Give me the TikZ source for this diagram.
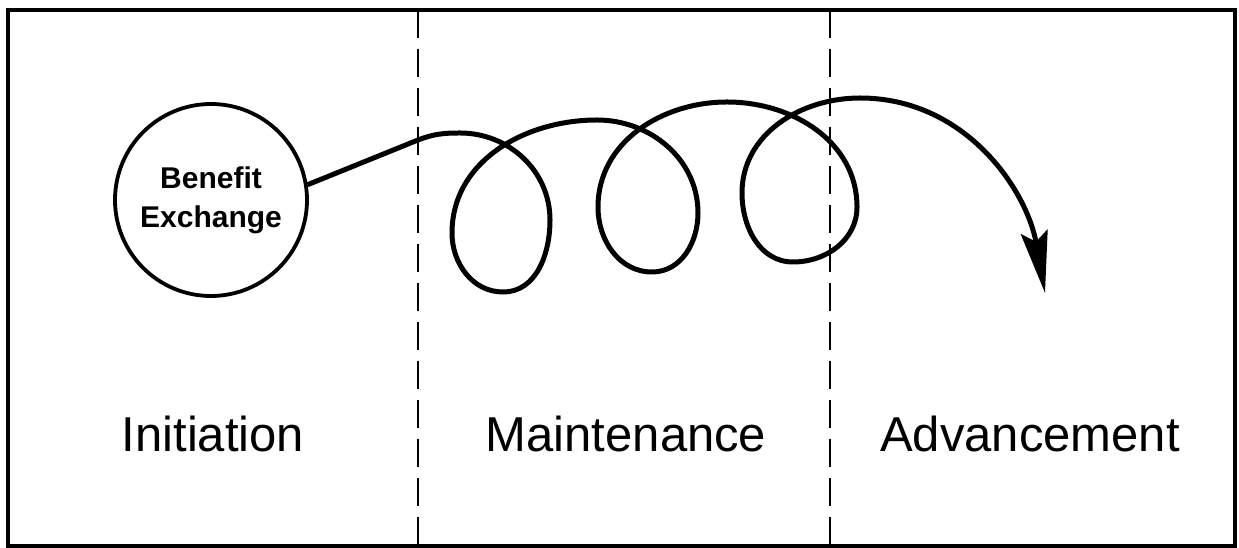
\documentclass[tikz,border=0pt]{standalone}
\usepackage{fontspec}
\setmainfont{Liberation Sans}
\usetikzlibrary{arrows.meta}

\begin{document}
\begin{tikzpicture}[x=1pt,y=1pt]
\useasboundingbox (0,0) rectangle (1239,548);
\coordinate (sw) at (8,2);
\coordinate (ne) at (1235,538);
\coordinate (d1t) at (418,538);
\coordinate (d1b) at (418,2);
\coordinate (d2t) at (830,538);
\coordinate (d2b) at (830,2);
% spiral points
\coordinate (k) at (418,408);
\coordinate (a1) at (460,415);
\coordinate (r1) at (550,328);
\coordinate (b1) at (503,256);
\coordinate (l1) at (452,315);
\coordinate (t1) at (597,428);
\coordinate (r2) at (698,335);
\coordinate (b2) at (652,276);
\coordinate (l2) at (598,341);
\coordinate (t2) at (727,446);
\coordinate (r3) at (857,341);
\coordinate (b3) at (793,286);
\coordinate (l3) at (742,355);
\coordinate (t3) at (860,450);
\coordinate (e) at (1045,255);
% draws frame and column borders
\draw[line width=3.5pt] (sw) rectangle (ne);
\draw[line width=2.2pt, dash pattern=on 28pt off 11pt] (d1t) -- (d1b);
\draw[line width=2.2pt, dash pattern=on 28pt off 11pt] (d2t) -- (d2b);
% draws circle
\node[circle, draw, line width=3.8pt, minimum size=192pt, inner sep=0pt, align=center, font=\bfseries\fontsize{30}{39}\selectfont] (ben) at (211,348) {Benefit\\Exchange};
% labels columns
\node[anchor=base, font=\fontsize{49}{58}\selectfont] (ini) at (213,96) {Initiation};
\node[anchor=base, font=\fontsize{49}{58}\selectfont] (mai) at (626,96) {Maintenance};
\node[anchor=base, font=\fontsize{49}{58}\selectfont] (adv) at (1030,96) {Advancement};
% draws spiral
\draw[line width=5pt, line join=round, -{Stealth[length=62pt,width=27pt,inset=10pt]}]
  (ben.9) -- (k) to[out=21,in=180] (a1)
  to[out=0,in=90] (r1) to[out=-90,in=0] (b1) to[out=180,in=-90] (l1) to[out=90,in=180] (t1)
  to[out=0,in=90] (r2) to[out=-90,in=0] (b2) to[out=180,in=-90] (l2) to[out=90,in=180] (t2)
  to[out=0,in=90] (r3) to[out=-90,in=0] (b3) to[out=180,in=-90] (l3) to[out=90,in=180] (t3)
  to[out=0,in=100] (e);
\end{tikzpicture}
\end{document}
